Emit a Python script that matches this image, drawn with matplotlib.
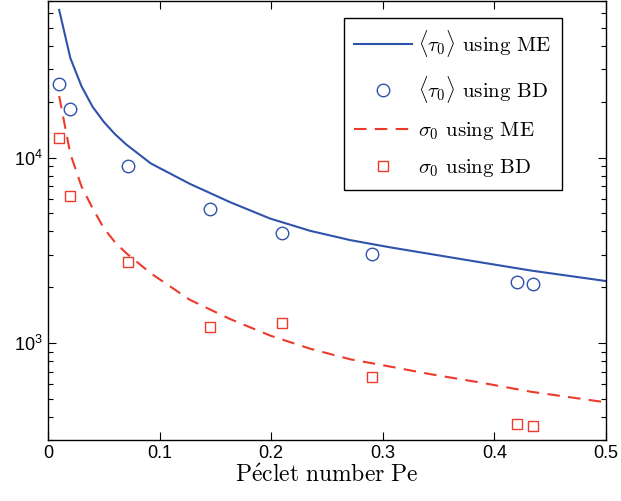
import matplotlib.pyplot as plt

plt.rcParams['mathtext.fontset'] = 'cm'
plt.rcParams['font.family'] = ['Liberation Sans', 'DejaVu Sans']

# BD sample points
pe_bd = [0.01, 0.02, 0.072, 0.145, 0.21, 0.29, 0.42, 0.435]
tau_bd = [24900, 18300, 9060, 5260, 3920, 3020, 2140, 2090]
sigma_bd = [12800, 6250, 2730, 1220, 1285, 659, 365, 357]

# ME curves
pe_me = [0.01, 0.02, 0.03, 0.04, 0.05, 0.06, 0.07, 0.092, 0.127, 0.163,
         0.199, 0.235, 0.271, 0.307, 0.343, 0.387, 0.433, 0.5]
tau_me = [62700, 34500, 24300, 18800, 15600, 13400, 11800, 9320, 7230, 5760,
          4695, 4030, 3590, 3280, 3020, 2730, 2460, 2160]
sigma_me = [21500, 10500, 7000, 5330, 4170, 3500, 3060, 2381, 1713, 1349,
            1098, 932, 817, 746, 679, 613, 546, 479]

blue = '#2f52ab'
red = '#ee3a2a'

fig = plt.figure(figsize=(6.21, 5.01), dpi=100)
ax = fig.add_axes([48 / 621, 61 / 501, 558 / 621, 439 / 501])

ax.plot(pe_me, tau_me, '-', color=blue, lw=1.5, label=r'$\langle\tau_0\rangle$ using ME')
ax.plot(pe_bd, tau_bd, 'o', mfc='none', mec=blue, mew=1.0, ms=9,
        label=r'$\langle\tau_0\rangle$ using BD')
ax.plot(pe_me, sigma_me, '--', color=red, lw=1.5, dashes=(6, 4), label=r'$\sigma_0$ using ME')
ax.plot(pe_bd, sigma_bd, 's', mfc='none', mec=red, mew=1.0, ms=7.5,
        label=r'$\sigma_0$ using BD')

ax.set_yscale('log')
ax.set_xlim(0, 0.5)
ax.set_ylim(300, 70000)
ax.set_xticks([0, 0.1, 0.2, 0.3, 0.4, 0.5])
ax.set_xticklabels(['0', '0.1', '0.2', '0.3', '0.4', '0.5'])
ax.tick_params(which='both', direction='in', top=True, right=True, labelsize=13)
ax.tick_params(which='major', length=6, width=0.8)
ax.tick_params(which='minor', length=3.5, width=0.8)
for s in ax.spines.values():
    s.set_linewidth(1.0)

ax.set_xlabel(r'$\mathrm{P\acute{e}clet\ number\ Pe}$', fontsize=17, labelpad=2)

leg = ax.legend(loc='upper right', bbox_to_anchor=(0.921, 0.962), borderaxespad=0,
                prop={'family': ['cmr10'], 'size': 15}, fancybox=False,
                edgecolor='black', framealpha=1, labelspacing=0.72, handlelength=2.75,
                handletextpad=0.3, borderpad=0.5, numpoints=1)
leg.get_frame().set_linewidth(1.0)

fig.savefig('out.png', dpi=100)
